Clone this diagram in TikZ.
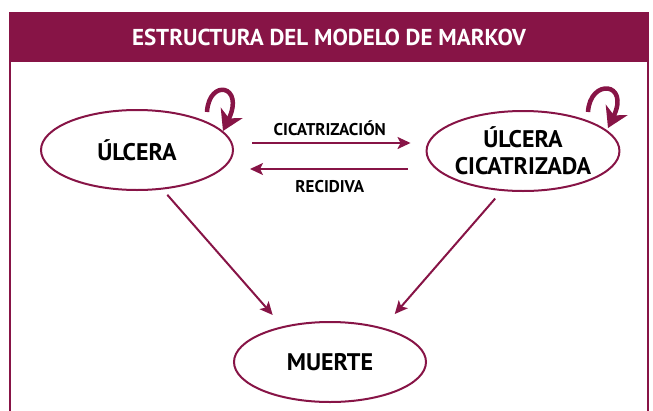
\documentclass[tikz,border=0pt]{standalone}
\usepackage{fontspec}
\setmainfont{PT Sans}
\usetikzlibrary{shapes.geometric,arrows.meta}
\definecolor{granate}{RGB}{135,20,70}
\begin{document}
\begin{tikzpicture}[x=1pt,y=-1pt,
    estado/.style={ellipse,draw=granate,line width=2pt,minimum width=192pt,minimum height=80pt,
      font=\bfseries\fontsize{24}{27}\selectfont,align=center,inner sep=0pt},
    flecha/.style={draw=granate,line width=2pt,-{Stealth[length=13pt,width=12pt,inset=3pt]}},
    bucle/.style={draw=granate,line width=4.5pt,-{Stealth[length=20pt,width=24pt,inset=6pt]}},
    etiq/.style={font=\bfseries\fontsize{17}{19}\selectfont,text=black}]
\useasboundingbox (0,0) rectangle (653,410);
% cabecera y marco
\fill[granate] (9,12) rectangle (649,62);
\node[text=white,font=\bfseries\fontsize{23}{25}\selectfont] (titulo) at (329,37) {ESTRUCTURA DEL MODELO DE MARKOV};
\draw[granate,line width=2pt] (10,62) -- (10,412);
\draw[granate,line width=2pt] (648,62) -- (648,412);
% estados
\node[estado] (ulc) at (137,150) {ÚLCERA};
\node[estado] (cic) at (523,151) {ÚLCERA\\CICATRIZADA};
\node[estado] (mue) at (330,362) {MUERTE};
% transiciones
\draw[flecha,shorten <=18pt,shorten >=15pt] ([shift={(0,-7)}]ulc.east) -- ([shift={(0,-8)}]cic.west)
    node[etiq,midway,above=3pt] (lcic) {CICATRIZACIÓN};
\draw[flecha,shorten <=18pt,shorten >=16pt] ([shift={(0,18)}]cic.west) -- ([shift={(0,19)}]ulc.east)
    node[etiq,midway,below=7pt] (lrec) {RECIDIVA};
\draw[flecha,shorten <=7pt,shorten >=15pt] (ulc.-57) -- (mue.143);
\draw[flecha,shorten <=10pt,shorten >=18pt] (cic.-118) -- (mue.33);
% bucles
\draw[bucle] ([shift={(70,-38)}]ulc.center) .. controls +(2,-34) and +(22,-46) .. ([shift={(86,-19)}]ulc.center);
\draw[bucle] ([shift={(65,-39)}]cic.center) .. controls +(2,-34) and +(22,-46) .. ([shift={(85,-23)}]cic.center);
\end{tikzpicture}
\end{document}
